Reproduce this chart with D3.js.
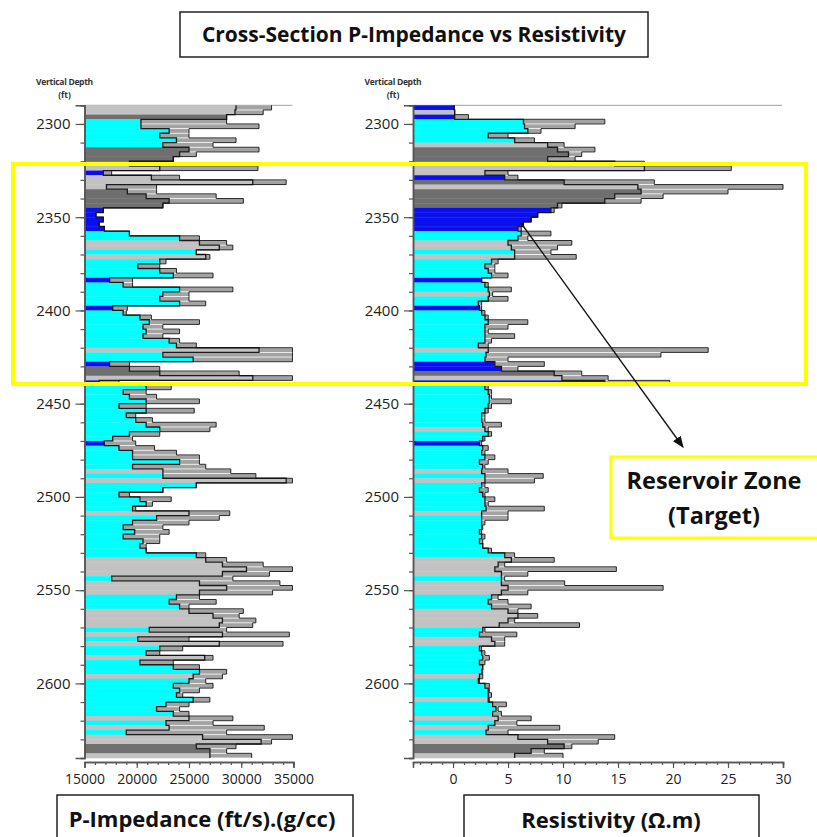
<!DOCTYPE html>
<html>
<head>
<meta charset="utf-8">
<script src="https://cdn.jsdelivr.net/npm/d3@7"></script>
<style>
  body { margin: 0; background: #fff; }
  svg { display: block; font-family: "Open Sans", "DejaVu Sans", sans-serif; }
</style>
</head>
<body>
<div id="chart"></div>
<script>
// depth samples (top of each 2.5 ft interval), ft
const depths = [2290,2292.5,2295,2297.5,2300,2302.5,2305,2307.5,2310,2312.5,
  2315,2317.5,2320,2322.5,2325,2327.5,2330,2332.5,2335,2337.5,
  2340,2342.5,2345,2347.5,2350,2352.5,2355,2357.5,2360,2362.5,
  2365,2367.5,2370,2372.5,2375,2377.5,2380,2382.5,2385,2387.5,
  2390,2392.5,2395,2397.5,2400,2402.5,2405,2407.5,2410,2412.5,
  2415,2417.5,2420,2422.5,2425,2427.5,2430,2432.5,2435,2437.5,
  2440,2442.5,2445,2447.5,2450,2452.5,2455,2457.5,2460,2462.5,
  2465,2467.5,2470,2472.5,2475,2477.5,2480,2482.5,2485,2487.5,
  2490,2492.5,2495,2497.5,2500,2502.5,2505,2507.5,2510,2512.5,
  2515,2517.5,2520,2522.5,2525,2527.5,2530,2532.5,2535,2537.5,
  2540,2542.5,2545,2547.5,2550,2552.5,2555,2557.5,2560,2562.5,
  2565,2567.5,2570,2572.5,2575,2577.5,2580,2582.5,2585,2587.5,
  2590,2592.5,2595,2597.5,2600,2602.5,2605,2607.5,2610,2612.5,
  2615,2617.5,2620,2622.5,2625,2627.5,2630,2632.5,2635,2637.5];
const depthBottom = 2640;

// lithology codes: C sand (cyan), L shale (light gray), D dark shale, B gas sand (blue)
const impLith = ["L","L","D","C","C","C","C","C","C","D",
  "D","D","D","L","B","L","L","L","D","D",
  "D","D","B","B","B","B","B","C","C","L",
  "L","C","L","C","C","C","C","B","C","C",
  "C","C","C","B","C","C","C","C","C","C",
  "C","C","L","C","C","B","D","D","L","B",
  "C","C","C","C","C","C","C","C","C","C",
  "C","C","B","C","C","C","C","C","L","C",
  "L","C","C","C","C","C","C","L","C","C",
  "C","C","C","C","C","C","C","L","L","L",
  "L","C","L","L","L","C","C","C","L","L",
  "L","L","C","L","C","L","C","C","L","C",
  "C","C","L","C","C","C","C","C","C","C",
  "C","L","C","L","C","L","L","D","D","L"];
const resLith = ["B","L","B","C","C","C","C","C","L","D",
  "D","D","D","L","L","B","D","L","D","D",
  "D","D","B","B","B","B","B","C","C","L",
  "L","C","L","C","C","C","C","B","C","C",
  "L","C","C","B","C","C","C","C","C","C",
  "C","C","L","C","C","B","B","D","L","B",
  "C","C","C","C","C","C","C","C","C","L",
  "C","C","B","C","C","C","C","C","L","C",
  "L","C","C","C","C","C","C","L","C","C",
  "C","C","C","C","C","C","C","L","L","L",
  "L","C","L","L","L","C","C","C","L","L",
  "L","L","C","C","L","L","C","C","C","C",
  "C","C","L","C","C","C","C","L","C","C",
  "C","L","C","L","C","L","L","D","D","L"];

// P-impedance (ft/s)(g/cc): lithology-filled part and full curve value
const impFill = [29500,29400,28600,20400,20400,23100,22200,23800,22500,25000,
  24100,23500,19300,22200,16800,21400,31100,17100,19100,20900,
  23100,22500,16800,16100,16800,16400,16900,19300,24100,26000,
  27900,25700,26600,22200,20100,22200,23500,17400,18700,24100,
  22500,22200,24100,17700,18700,20300,21200,20600,20900,20600,
  23100,23800,31700,22500,25400,17400,19300,22200,31100,16400,
  20900,18700,19300,20900,18300,20900,19000,19900,20900,22200,
  19300,17700,16900,18300,19600,19600,24100,19600,22500,22500,
  34300,25700,22500,18300,20300,20900,19600,25000,21900,19600,
  18700,19800,18700,20600,20300,20900,25700,26600,28200,30500,
  28200,17600,26000,28600,26000,23800,23100,24100,25000,27300,
  28200,27900,21200,28200,20100,27900,22200,20900,26500,20300,
  23500,26000,25400,25000,23500,24100,23800,25400,22800,21900,
  23500,25000,22800,23100,19000,26300,31900,25700,27000,27000];
const impCurve = [32900,32100,28600,28600,31700,25000,25000,29500,27300,31700,
  25700,23500,19300,31600,17600,24100,34300,21900,21900,27600,
  30200,22500,16800,16100,16800,16400,16900,19300,26000,28600,
  29200,25700,27000,22800,22200,23800,27300,19600,19600,29200,
  25000,25000,26600,19100,19000,21400,26000,22500,24100,22500,
  24100,25700,34900,34900,34900,19300,22200,29800,34900,18300,
  23300,20900,21900,26000,20900,25500,19900,21500,27600,27000,
  22200,19600,19900,21700,23800,26000,26000,26600,29000,31400,
  34900,25700,22500,19300,23300,21500,19900,28900,27900,25000,
  22500,23100,22200,22200,20900,20900,26600,28600,32100,34900,
  32700,29200,33700,34900,33000,26000,27600,25000,30200,29800,
  31400,31100,28600,34600,25000,34000,24400,22200,27300,23500,
  26000,28600,28200,26600,27300,26000,24400,27000,25000,24100,
  25000,29200,27300,32200,28600,34900,32900,29500,28600,31000];

// Resistivity (ohm.m)
const resFill = [0.1,0.15,0.15,6.4,6.5,6.8,3.2,5.6,8.6,9.5,
  10.5,8.6,14.7,17.4,2.9,4.7,10.1,16.8,17.1,14.7,
  13.8,9.5,8.9,7.7,7.1,6.4,5.9,6.2,5.9,5.0,
  5.3,5.6,5.6,3.5,2.9,3.2,3.5,2.6,2.9,3.2,
  3.3,3.2,2.3,2.4,2.6,2.9,3.2,2.9,2.9,2.9,
  2.9,2.3,3.2,3.0,2.9,3.8,4.4,9.2,9.9,13.8,
  2.9,3.2,3.3,3.3,3.2,2.9,2.6,2.6,2.7,2.9,
  3.2,2.7,2.4,2.7,2.6,2.9,2.4,2.7,2.6,2.9,
  2.9,2.6,2.4,2.7,2.9,2.9,3.0,2.6,2.6,2.6,
  2.6,2.4,2.6,2.4,2.7,3.2,4.7,5.3,4.1,3.8,
  4.4,4.4,4.4,5.0,4.4,3.5,3.2,3.5,5.0,5.9,
  5.0,4.2,2.7,2.4,3.5,3.8,2.4,2.6,2.7,2.4,
  2.7,2.6,2.4,2.3,2.9,3.2,3.2,3.2,3.6,3.9,
  3.6,4.1,3.8,3.2,3.0,5.9,8.6,10.1,7.1,5.6];
const resCurve = [0.1,0.15,1.4,13.8,11.1,8.0,5.0,7.4,10.1,12.9,
  11.7,11.1,17.4,25.3,5.0,5.9,18.3,30,25,19.1,
  17.1,9.9,9.2,7.7,7.1,6.4,6.2,8.9,6.8,10.8,
  9.5,8.9,11.2,4.1,3.8,3.8,5.0,2.6,3.2,5.3,
  3.6,5.0,2.6,2.6,2.9,3.2,6.8,5.0,3.2,5.6,
  3.5,3.2,23.2,18.9,5.0,8.3,5.9,11.7,14.1,19.7,
  3.2,3.5,3.5,5.3,3.5,3.2,2.9,2.9,4.4,3.2,
  3.5,2.9,2.6,3.2,2.9,3.8,3.2,2.9,5.0,8.2,
  7.4,2.9,3.2,2.9,3.8,3.2,8.3,5.0,5.0,2.9,
  2.7,2.6,2.9,2.7,2.7,3.5,5.6,9.2,4.7,14.85,
  6.8,4.7,10.15,19.1,6.8,4.1,5.0,7.1,5.9,7.7,
  5.6,11.5,2.9,5.8,4.7,4.7,2.6,2.9,3.3,2.9,
  2.7,2.7,2.7,2.4,3.3,3.3,3.5,3.3,4.85,4.1,
  4.4,7.1,5.8,9.7,5.0,14.7,13.2,10.8,8.3,10.0];

const depthTicks = [2300,2350,2400,2450,2500,2550,2600];
const impTicks = [15000,20000,25000,30000,35000];
const resTicks = [0,5,10,15,20,25,30];

const lithColor = {C: "#00ffff", L: "#c2c2c2", D: "#6f6f6f", B: "#0a0ff0"};

const svg = d3.select("#chart").append("svg")
    .attr("width", 817)
    .attr("height", 837);

svg.append("rect").attr("width", 817).attr("height", 837).attr("fill", "#fff");

// shared depth scale
const y = d3.scaleLinear().domain([2290, depthBottom]).range([105.3, 758]);

const impX = d3.scaleLinear().domain([15000, 35000]).range([84.5, 293.5]);
const resX = d3.scaleLinear().domain([-3.64, 30]).range([413, 783]);

function drawLog(x, lith, fill, curve, ticks, minorStep) {
  const g = svg.append("g");
  const x0 = x.domain()[0];
  const rows = depths.map(function(d, i) {
    return {
      top: y(d),
      bot: y(i < depths.length - 1 ? depths[i + 1] : depthBottom),
      lith: lith[i], fill: fill[i], curve: curve[i]
    };
  });

  // top border
  g.append("line")
      .attr("x1", x.range()[0]).attr("x2", x.range()[1] - 1)
      .attr("y1", y(2290)).attr("y2", y(2290))
      .attr("stroke", "#a0a0a0").attr("stroke-width", 1);

  // lithology fill
  g.selectAll(".fill").data(rows).enter().append("rect")
      .attr("x", x(x0))
      .attr("y", d => d.top)
      .attr("width", d => Math.max(0, x(d.fill) - x(x0)))
      .attr("height", d => d.bot - d.top + 0.3)
      .attr("fill", d => lithColor[d.lith]);

  // overshoot part of the curve
  g.selectAll(".over").data(rows.filter(d => d.curve > d.fill)).enter().append("rect")
      .attr("x", d => x(d.fill))
      .attr("y", d => d.top + 0.4)
      .attr("width", d => x(d.curve) - x(d.fill))
      .attr("height", d => Math.max(0.8, d.bot - d.top - 0.8))
      .attr("fill", "#a3a3a3");

  const stepPts = function(key) {
    const pts = [];
    rows.forEach(function(d) { pts.push([x(d[key]), d.top], [x(d[key]), d.bot]); });
    return pts;
  };
  const line = d3.line();

  g.append("path").attr("d", line(stepPts("fill")))
      .attr("fill", "none").attr("stroke", "#1b1b1b").attr("stroke-width", 1.3);
  g.append("path").attr("d", line(stepPts("curve")))
      .attr("fill", "none").attr("stroke", "#111").attr("stroke-width", 0.9);

  // y axis (depth)
  const yAxisX = x.range()[0];
  const yMinor = g.append("g").attr("transform", `translate(${yAxisX},0)`)
      .call(d3.axisLeft(y).tickValues(d3.range(2290, 2641, 10)).tickSize(4).tickFormat(""));
  const yMajor = g.append("g").attr("transform", `translate(${yAxisX},0)`)
      .call(d3.axisLeft(y).tickValues(depthTicks).tickSize(9).tickPadding(5).tickFormat(d3.format("d")));
  [yMinor, yMajor].forEach(function(a) {
    a.select(".domain").attr("stroke", "#555").attr("stroke-width", 1.5);
    a.selectAll(".tick line").attr("stroke", "#555").attr("stroke-width", 1.2);
  });
  yMajor.selectAll(".tick text").attr("font-size", 15).attr("fill", "#222")
      .attr("font-family", "Open Sans");

  // x axis
  const xMinor = g.append("g").attr("transform", "translate(0,762)")
      .call(d3.axisBottom(x).tickValues(d3.range(Math.ceil(x0 / minorStep) * minorStep, x.domain()[1] + 0.001, minorStep))
        .tickSize(3).tickFormat(""));
  const xMajor = g.append("g").attr("transform", "translate(0,762)")
      .call(d3.axisBottom(x).tickValues(ticks).tickSize(6).tickPadding(6).tickFormat(d3.format("d")));
  [xMinor, xMajor].forEach(function(a) {
    a.select(".domain").attr("stroke", "#555").attr("stroke-width", 1.5);
    a.selectAll(".tick line").attr("stroke", "#555").attr("stroke-width", 1.2);
  });
  xMajor.selectAll(".tick text").attr("font-size", 14).attr("fill", "#222")
      .attr("font-family", "Open Sans");

  // "Vertical Depth (ft)" header
  const hx = yAxisX - 20;
  g.append("text").attr("x", hx).attr("y", 85).attr("text-anchor", "middle")
      .attr("font-size", 8.5).attr("font-weight", "bold").attr("fill", "#333")
      .attr("letter-spacing", -0.3).text("Vertical Depth");
  g.append("text").attr("x", hx).attr("y", 98).attr("text-anchor", "middle")
      .attr("font-size", 8.5).attr("font-weight", "bold").attr("fill", "#333").text("(ft)");
}

drawLog(impX, impLith, impFill, impCurve, impTicks, 1000);
drawLog(resX, resLith, resFill, resCurve, resTicks, 1);

// title box
svg.append("rect").attr("x", 180).attr("y", 12).attr("width", 468).attr("height", 45)
    .attr("fill", "#fff").attr("stroke", "#222").attr("stroke-width", 1.5);
svg.append("text").attr("x", 414).attr("y", 42).attr("text-anchor", "middle")
    .attr("font-size", 21).attr("font-weight", "bold").attr("fill", "#111")
    .text("Cross-Section P-Impedance vs Resistivity");

// reservoir zone highlight
svg.append("rect").attr("x", 13).attr("y", 164).attr("width", 793).attr("height", 220)
    .attr("fill", "none").attr("stroke", "#ffff00").attr("stroke-width", 4);

// arrow to label
svg.append("defs").append("marker")
    .attr("id", "arrow").attr("viewBox", "0 0 10 10").attr("refX", 9).attr("refY", 5)
    .attr("markerWidth", 9).attr("markerHeight", 9).attr("orient", "auto")
  .append("path").attr("d", "M0,1 L10,5 L0,9 z").attr("fill", "#111");
svg.append("line").attr("x1", 521).attr("y1", 223).attr("x2", 683).attr("y2", 447)
    .attr("stroke", "#111").attr("stroke-width", 1.3).attr("marker-end", "url(#arrow)");

// reservoir label box
svg.append("rect").attr("x", 611).attr("y", 457).attr("width", 220).attr("height", 81)
    .attr("fill", "#fff").attr("stroke", "#ffff00").attr("stroke-width", 3);
svg.append("text").attr("x", 714).attr("y", 489).attr("text-anchor", "middle")
    .attr("font-size", 23.5).attr("font-weight", "bold").attr("fill", "#111").text("Reservoir Zone");
svg.append("text").attr("x", 714).attr("y", 524).attr("text-anchor", "middle")
    .attr("font-size", 23.5).attr("font-weight", "bold").attr("fill", "#111").text("(Target)");

// axis title boxes
svg.append("rect").attr("x", 57).attr("y", 795).attr("width", 296).attr("height", 60)
    .attr("fill", "#fff").attr("stroke", "#222").attr("stroke-width", 1.5);
svg.append("text").attr("x", 202).attr("y", 827).attr("text-anchor", "middle")
    .attr("font-size", 22).attr("font-weight", "bold").attr("fill", "#111")
    .text("P-Impedance (ft/s).(g/cc)");
svg.append("rect").attr("x", 464).attr("y", 795).attr("width", 295).attr("height", 60)
    .attr("fill", "#fff").attr("stroke", "#222").attr("stroke-width", 1.5);
svg.append("text").attr("x", 611).attr("y", 828).attr("text-anchor", "middle")
    .attr("font-size", 22).attr("font-weight", "bold").attr("fill", "#111")
    .text("Resistivity (Ω.m)");
</script>
</body>
</html>
